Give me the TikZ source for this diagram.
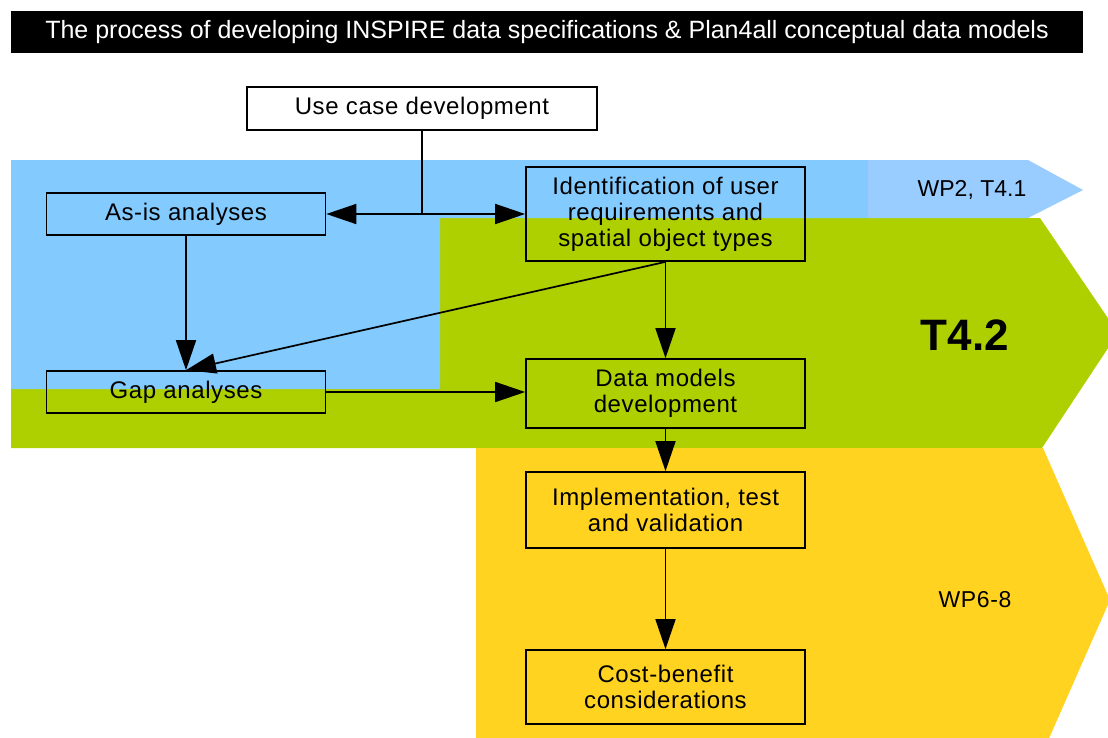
\documentclass[tikz,border=0pt]{standalone}
\usepackage{fontspec}
\setmainfont{Liberation Sans}
\newfontfamily\boxfont{Liberation Sans}[LetterSpace=2.5]
\usetikzlibrary{positioning, arrows.meta}
\definecolor{bandblue}{HTML}{83CAFF}
\definecolor{tipblue}{HTML}{99CCFF}
\definecolor{bandgreen}{HTML}{AECF00}
\definecolor{bandyellow}{HTML}{FFD320}

\begin{document}
\begin{tikzpicture}[x=1pt, y=-1pt,
    stepbox/.style={draw=black, line width=1.7pt, align=center, minimum width=279pt, font=\boxfont\fontsize{24}{26}\selectfont},
    flow/.style={line width=1.7pt, -{Triangle[length=30pt, width=20pt]}}
  ]
  \useasboundingbox (0,0) rectangle (1108,737);
  \clip (0,0) rectangle (1108,737);

  % coloured bands
  \fill[bandgreen] (11,218) -- (1040,218) -- (1118,333) -- (1042,448) -- (11,448) -- cycle;
  \fill[bandblue] (11,160) -- (868,160) -- (868,218) -- (440,218) -- (440,389) -- (11,389) -- cycle;
  \fill[tipblue] (868,160) -- (1028,160) -- (1083,190) -- (1028,218) -- (868,218) -- cycle;
  \fill[bandyellow] (476,448) -- (1043,448) -- (1110,600) -- (1043,752) -- (476,752) -- cycle;

  \node[fill=black, text=white, minimum width=1072pt, minimum height=42pt, font=\fontsize{25}{28}\selectfont] (title) at (547,32)
       {The process of developing INSPIRE data specifications \& Plan4all conceptual data models};

  \node[font=\fontsize{23}{26}\selectfont] (wp2) at (972,190) {WP2, T4.1};
  \node[font=\fontsize{44}{48}\selectfont\bfseries] (t42) at (965,335) {T4.2};
  \node[font=\boxfont\fontsize{23}{26}\selectfont] (wp6) at (975,600) {WP6-8};

  \node[stepbox, fill=white, minimum width=350pt, minimum height=43pt] (usecase) at (422,108.5) {Use case development};
  \node[stepbox, minimum height=42pt] (asis) at (186,214) {As-is analyses};
  \node[stepbox, minimum height=42pt] (gap) at (186,392) {Gap analyses};
  \node[stepbox, minimum height=94pt] (ident) at (665.5,214) {Identification of user\\requirements and\\spatial object types};
  \node[stepbox, minimum height=69pt] (data) at (665.5,393.5) {Data models\\development};
  \node[stepbox, minimum height=76pt] (impl) at (665.5,510) {Implementation, test\\and validation};
  \node[stepbox, minimum height=74pt] (cost) at (665.5,687) {Cost-benefit\\considerations};

  \coordinate (split) at (usecase.south |- asis.east);
  \draw[line width=1.7pt] (usecase.south) -- (split);
  \draw[flow] (split) -- (asis.east);
  \draw[flow] (split) -- (split -| ident.west);
  \draw[flow] (asis) -- (gap);
  \draw[flow] (ident.south) -- (gap.north);
  \draw[flow] (ident) -- (data);
  \draw[flow] (gap.east) -- (gap.east -| data.west);
  \draw[flow] (data) -- (impl);
  \draw[flow] (impl) -- (cost);
\end{tikzpicture}
\end{document}
